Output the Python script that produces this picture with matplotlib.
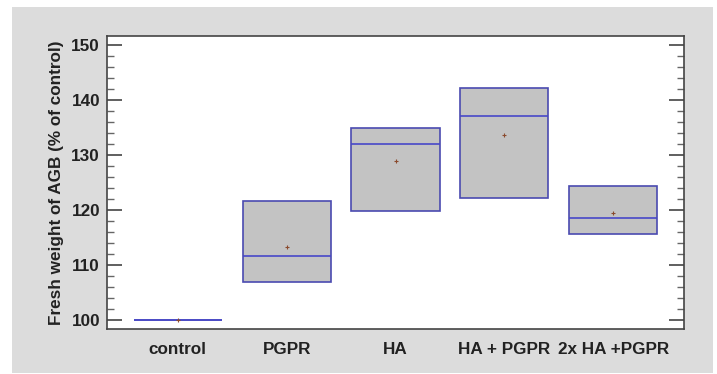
import matplotlib.pyplot as plt
from matplotlib.patches import Rectangle
from matplotlib.ticker import MultipleLocator

groups = ['control', 'PGPR', 'HA', 'HA + PGPR', '2x HA +PGPR']
q1 = [100.0, 107.0, 119.9, 122.2, 115.6]
med = [100.0, 111.6, 132.0, 137.0, 118.5]
q3 = [100.0, 121.7, 134.85, 142.1, 124.4]
means = [100.0, 113.3, 128.9, 133.7, 119.4]

plt.rcParams['font.family'] = ['Liberation Sans', 'DejaVu Sans']

fig = plt.figure(figsize=(7.17, 3.74), dpi=100, facecolor='white')
fig.patches.append(Rectangle((12 / 717, 1 / 374), 701 / 717, 366 / 374,
                             transform=fig.transFigure, facecolor='#dcdcdc',
                             edgecolor='none', zorder=-10))
ax = fig.add_axes([107 / 717, 1 - 329 / 374, 577 / 717, 293 / 374])
ax.set_facecolor('white')

stats = []
for g, a, m, b, mu in zip(groups, q1, med, q3, means):
    stats.append(dict(label=g, q1=a, med=m, q3=b, mean=mu,
                      whislo=a, whishi=b, fliers=[]))

pos = list(range(1, len(groups) + 1))
ax.bxp(stats, positions=pos, widths=0.81, patch_artist=True,
       showmeans=True, showcaps=False,
       boxprops=dict(facecolor='#c3c3c3', edgecolor='#4a4ab0', linewidth=1.2),
       medianprops=dict(color='#4848c8', linewidth=1.2),
       whiskerprops=dict(linewidth=0),
       meanprops=dict(marker='+', markeredgecolor='#8b4a2d', markersize=3.5,
                      markeredgewidth=0.8))

ax.set_xlim(0.35, 5.65)
ax.set_ylim(98.4, 151.6)
ax.yaxis.set_major_locator(MultipleLocator(10))
ax.yaxis.set_minor_locator(MultipleLocator(2))
ax.tick_params(axis='y', which='major', direction='in', length=11, width=1.2,
               color='#444444', right=True, labelsize=12.3, pad=5)
ax.tick_params(axis='y', which='minor', direction='in', length=5, width=1,
               color='#666666', right=True)
ax.tick_params(axis='x', length=0, labelsize=12.3, pad=9)
for lab in ax.get_xticklabels() + ax.get_yticklabels():
    lab.set_fontweight('bold')
    lab.set_color('#222222')
for s in ax.spines.values():
    s.set_color('#444444')
    s.set_linewidth(1.2)

ax.set_ylabel('Fresh weight of AGB (% of control)', fontsize=12.3,
              fontweight='bold', labelpad=5, color='#222222')

fig.savefig('out.png', dpi=100, facecolor='white')
